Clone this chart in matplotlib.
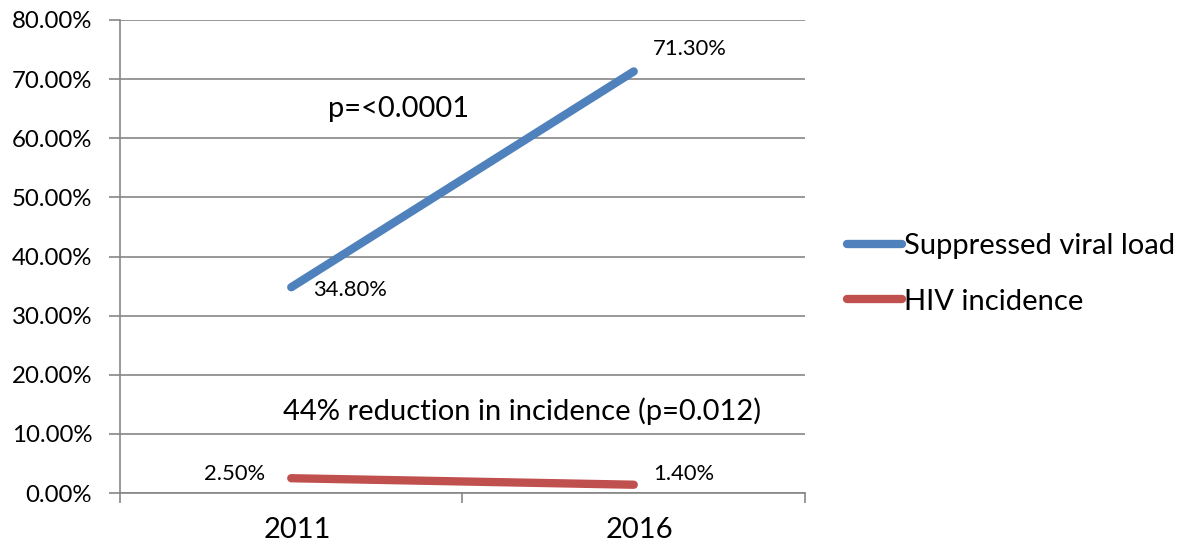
import matplotlib
matplotlib.use("Agg")
import matplotlib.pyplot as plt
import matplotlib.transforms as mtransforms
from matplotlib.ticker import FuncFormatter

years = ["2011", "2016"]
suppressed = [34.8, 71.3]
incidence = [2.5, 1.4]
series_names = ["Suppressed viral load", "HIV incidence"]
yticks = [0, 10, 20, 30, 40, 50, 60, 70, 80]

plt.rcParams['font.family'] = ['Lato', 'DejaVu Sans']
TICK_FS = 17.3
LAB_FS = 15.8
BIG_FS = 21

fig = plt.figure(figsize=(11.83, 5.41), dpi=100)
W, H = 1183, 541
ax = fig.add_axes([120 / W, (H - 493) / H, (805 - 120) / W, (493 - 20) / H])

grid_c = "#868686"
x = [0.5, 1.5]
l1, = ax.plot(x, suppressed, color="#4F81BD", lw=6, solid_capstyle="round", label=series_names[0], zorder=3)
l2, = ax.plot(x, incidence, color="#C0504D", lw=6, solid_capstyle="round", label=series_names[1], zorder=3)

ax.set_xlim(0, 2)
ax.set_ylim(0, 80)
ax.set_yticks(yticks)
ax.yaxis.set_major_formatter(FuncFormatter(lambda v, p: f"{v:.2f}%"))
ax.set_xticks([0, 1, 2])
ax.set_xticklabels([])
ax.set_xticks(x, minor=True)
ax.set_xticklabels(years, minor=True)
ax.tick_params(axis="x", which="minor", length=0, pad=17, labelsize=BIG_FS)
ax.tick_params(axis="x", which="major", length=7, width=1.2, color=grid_c)
ax.tick_params(axis="y", length=8, width=1.2, color=grid_c, labelsize=TICK_FS, pad=12)
shift = mtransforms.ScaledTranslation(6 / 100, 0, fig.dpi_scale_trans)
for lab in ax.get_xticklabels(minor=True):
    lab.set_transform(lab.get_transform() + shift)

ax.grid(axis="y", color=grid_c, lw=1.2)
ax.set_axisbelow(True)
for s in ["top", "right"]:
    ax.spines[s].set_visible(False)
for s in ["left", "bottom"]:
    ax.spines[s].set_color(grid_c)
    ax.spines[s].set_linewidth(1.2)

# data labels
ax.annotate(f"{suppressed[0]:.2f}%", (x[0], suppressed[0]), xytext=(16, -2), textcoords="offset points",
            ha="left", va="center", fontsize=LAB_FS)
ax.annotate(f"{suppressed[1]:.2f}%", (x[1], suppressed[1]), xytext=(14, 16), textcoords="offset points",
            ha="left", va="center", fontsize=LAB_FS)
ax.annotate(f"{incidence[0]:.2f}%", (x[0], incidence[0]), xytext=(-19, 3), textcoords="offset points",
            ha="right", va="center", fontsize=LAB_FS)
ax.annotate(f"{incidence[1]:.2f}%", (x[1], incidence[1]), xytext=(14, 8), textcoords="offset points",
            ha="left", va="center", fontsize=LAB_FS)

fig.text(328 / W, 1 - 109 / H, "p=<0.0001", fontsize=BIG_FS, ha="left", va="center")
fig.text(283 / W, 1 - 411 / H, "44% reduction in incidence (p=0.012)", fontsize=BIG_FS, ha="left", va="center")

fig.legend(handles=[l1, l2], loc="center left", bbox_to_anchor=(847 / W, 1 - 274 / H),
           frameon=False, fontsize=BIG_FS, handlelength=1.9, handletextpad=0.05, labelspacing=1.0,
           borderaxespad=0, borderpad=0)

fig.savefig("out.png", dpi=100)
